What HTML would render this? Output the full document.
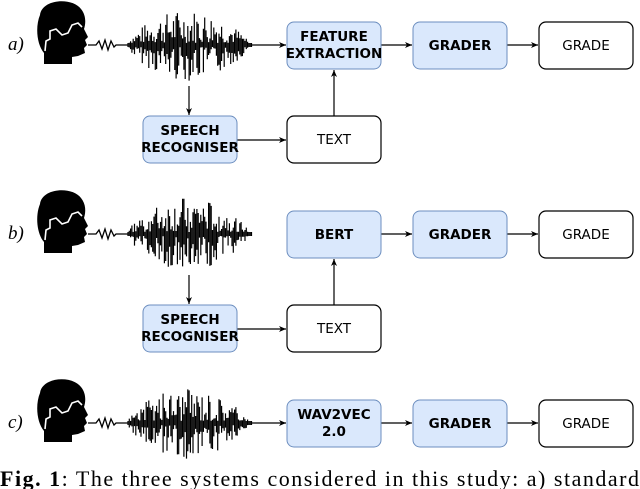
<!DOCTYPE html>
<html><head><meta charset="utf-8"><style>
html,body{margin:0;padding:0;background:#fff;width:640px;height:489px;overflow:hidden}
svg{display:block}
.bl{fill:#dae8fc;stroke:#6c8ebf;stroke-width:1}
.wh{fill:#fff;stroke:#000;stroke-width:1.2}
.t{font-family:"DejaVu Sans","Liberation Sans",sans-serif;font-size:13.5px;text-anchor:middle;fill:#000}
.b{font-weight:bold}
.ln{stroke:#000;stroke-width:1.2;fill:none}
.lab{font-family:"Liberation Serif",serif;font-style:italic;font-size:19px}
</style></head><body>
<svg width="640" height="489" viewBox="0 0 640 489" xmlns="http://www.w3.org/2000/svg">
<defs>
<marker id="ah" markerWidth="8" markerHeight="8" refX="7" refY="4" orient="auto" markerUnits="userSpaceOnUse"><path d="M0,1 L7,4 L0,7 L2,4 Z" fill="#000"/></marker>
<g id="head">
<path d="M40,-30 C42,-46 72,-48 81,-36 C86,-30 86,-22 84,-16 L88,-8 L85,-5 L87,0 L84,3 L85,8 L78,11 L72,12 L72,19 L44,19 L44,8 C37,0 35,-18 40,-30 Z" fill="#000"/>
<path d="M45,6 L46,-4 L50,-6 L50,-14 L56,-16 L62,-10 L68,-12 L72,-20 L78,-22 L82,-18" stroke="#fff" stroke-width="1.6" fill="none"/>
<path d="M88,0 L96,0 L99,-4 L102,4 L105,-5 L108,5 L111,-4 L114,2 L116,0 L128,0" stroke="#000" stroke-width="1.3" fill="none"/>
</g>
</defs>
<text class="lab" x="8" y="50">a)</text>
<text class="lab" x="8" y="239">b)</text>
<text class="lab" x="8" y="428">c)</text>
<use href="#head" x="0" y="45"/>
<use href="#head" x="0" y="234"/>
<use href="#head" x="0" y="423"/>
<!-- row a -->
<line class="ln" x1="252" y1="45" x2="286" y2="45" marker-end="url(#ah)"/>
<line class="ln" x1="189" y1="86" x2="189" y2="115" marker-end="url(#ah)"/>
<line class="ln" x1="237" y1="140" x2="286" y2="140" marker-end="url(#ah)"/>
<line class="ln" x1="334" y1="116" x2="334" y2="70" marker-end="url(#ah)"/>
<line class="ln" x1="381" y1="45" x2="412" y2="45" marker-end="url(#ah)"/>
<line class="ln" x1="507" y1="45" x2="538" y2="45" marker-end="url(#ah)"/>
<rect class="bl" x="287" y="22" width="94" height="47" rx="7"/>
<text class="t b" x="334" y="41">FEATURE</text><text class="t b" x="334" y="58">EXTRACTION</text>
<rect class="bl" x="413" y="22" width="94" height="47" rx="7"/>
<text class="t b" x="460" y="50">GRADER</text>
<rect class="wh" x="539" y="22" width="94" height="47" rx="7"/>
<text class="t" x="586" y="50">GRADE</text>
<rect class="bl" x="143" y="116" width="94" height="47" rx="7"/>
<text class="t b" x="190" y="135">SPEECH</text><text class="t b" x="190" y="152">RECOGNISER</text>
<rect class="wh" x="287" y="116" width="94" height="47" rx="7"/>
<text class="t" x="334" y="144">TEXT</text>
<!-- row b -->
<line class="ln" x1="189" y1="275" x2="189" y2="304" marker-end="url(#ah)"/>
<line class="ln" x1="237" y1="329" x2="286" y2="329" marker-end="url(#ah)"/>
<line class="ln" x1="334" y1="305" x2="334" y2="259" marker-end="url(#ah)"/>
<line class="ln" x1="381" y1="234" x2="412" y2="234" marker-end="url(#ah)"/>
<line class="ln" x1="507" y1="234" x2="538" y2="234" marker-end="url(#ah)"/>
<rect class="bl" x="287" y="211" width="94" height="47" rx="7"/>
<text class="t b" x="334" y="239">BERT</text>
<rect class="bl" x="413" y="211" width="94" height="47" rx="7"/>
<text class="t b" x="460" y="239">GRADER</text>
<rect class="wh" x="539" y="211" width="94" height="47" rx="7"/>
<text class="t" x="586" y="239">GRADE</text>
<rect class="bl" x="143" y="305" width="94" height="47" rx="7"/>
<text class="t b" x="190" y="324">SPEECH</text><text class="t b" x="190" y="341">RECOGNISER</text>
<rect class="wh" x="287" y="305" width="94" height="47" rx="7"/>
<text class="t" x="334" y="333">TEXT</text>
<!-- row c -->
<line class="ln" x1="252" y1="423" x2="286" y2="423" marker-end="url(#ah)"/>
<line class="ln" x1="381" y1="423" x2="412" y2="423" marker-end="url(#ah)"/>
<line class="ln" x1="507" y1="423" x2="538" y2="423" marker-end="url(#ah)"/>
<rect class="bl" x="287" y="400" width="94" height="47" rx="7"/>
<text class="t b" x="334" y="419">WAV2VEC</text><text class="t b" x="334" y="436">2.0</text>
<rect class="bl" x="413" y="400" width="94" height="47" rx="7"/>
<text class="t b" x="460" y="428">GRADER</text>
<rect class="wh" x="539" y="400" width="94" height="47" rx="7"/>
<text class="t" x="586" y="428">GRADE</text>
<g id="waves"></g>
<text x="0" y="486" font-family="Liberation Serif,serif" font-size="22" textLength="639" lengthAdjust="spacing"><tspan font-weight="bold">Fig. 1</tspan>:  The three systems considered in this study:  a) standard</text>
<script>
var g=document.getElementById('waves'),ns='http://www.w3.org/2000/svg';
[45,234,423].forEach(function(cy,r){
 var d='',s=7+r*13;
 function rnd(){s=(s*9301+49297)%233280;return s/233280;}
 for(var x=128;x<=252;x+=1.3){
  var t=(x-128)/124;
  var env=Math.pow(Math.sin(Math.PI*Math.min(1,t*1.03)),0.7);
  var a=2+env*34*Math.pow(rnd(),1.3);
  var b=2+env*34*Math.pow(rnd(),1.3);
  d+='M'+x.toFixed(1)+','+(cy-a).toFixed(1)+'L'+x.toFixed(1)+','+(cy+b).toFixed(1);
 }
 var p=document.createElementNS(ns,'path');
 p.setAttribute('d',d);p.setAttribute('stroke','#000');p.setAttribute('stroke-width','1.2');
 g.appendChild(p);
});
</script>
</svg>
</body></html>
